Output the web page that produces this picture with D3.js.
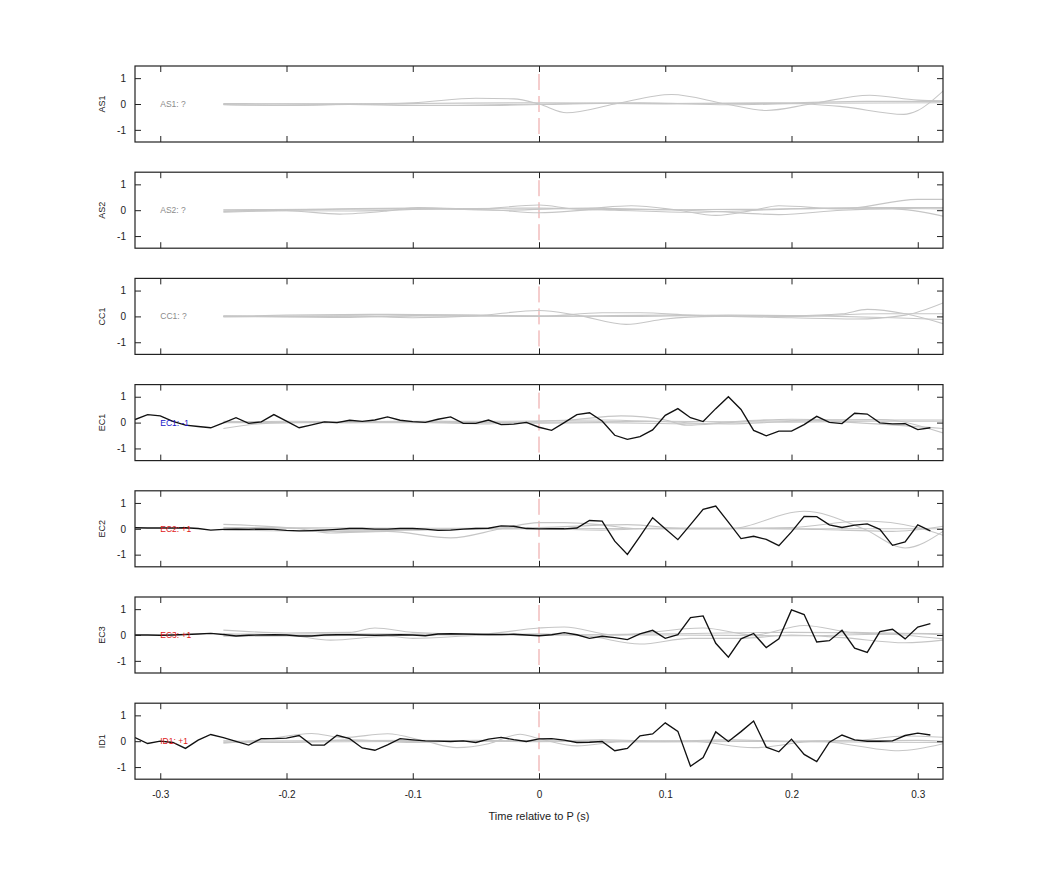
<!DOCTYPE html>
<html>
<head>
<meta charset="utf-8">
<script src="https://cdn.jsdelivr.net/npm/d3@7"></script>
<style>
body { margin: 0; background: #fff; }
text { font-family: "Liberation Sans", Arial, sans-serif; }
</style>
</head>
<body>
<svg id="chart" width="1042" height="875"></svg>
<script>
// channel names, one panel each
var channels = ["AS1", "AS2", "CC1", "EC1", "EC2", "EC3", "ID1"];
var channelNotes = ["AS1: ?", "AS2: ?", "CC1: ?", "EC1: -1", "EC2: +1", "EC3: +1", "ID1: +1"];
var noteColors = ["#8a8a8a", "#8a8a8a", "#8a8a8a", "#1515c8", "#e01818", "#e01818", "#e01818"];

var xTicks = [-0.3, -0.2, -0.1, 0, 0.1, 0.2, 0.3];
var yTicks = [-1, 0, 1];

// sample times of the black traces (s)
var sampleTimes = [-0.32, -0.31, -0.30, -0.29, -0.28, -0.27, -0.26, -0.25, -0.24, -0.23, -0.22, -0.21,
	-0.20, -0.19, -0.18, -0.17, -0.16, -0.15, -0.14, -0.13, -0.12, -0.11, -0.10, -0.09, -0.08, -0.07,
	-0.06, -0.05, -0.04, -0.03, -0.02, -0.01, 0.00, 0.01, 0.02, 0.03, 0.04, 0.05, 0.06, 0.07, 0.08,
	0.09, 0.10, 0.11, 0.12, 0.13, 0.14, 0.15, 0.16, 0.17, 0.18, 0.19, 0.20, 0.21, 0.22, 0.23, 0.24,
	0.25, 0.26, 0.27, 0.28, 0.29, 0.30, 0.31];

var ec1Trace = [0.12, 0.31, 0.26, 0.05, -0.10, -0.15, -0.20, -0.01, 0.19, -0.03, 0.03, 0.31,
	0.06, -0.20, -0.09, 0.03, 0.00, 0.09, 0.05, 0.10, 0.22, 0.09, 0.04, 0.01, 0.13, 0.22,
	-0.03, -0.03, 0.10, -0.08, -0.06, 0.01, -0.18, -0.30, 0.00, 0.31, 0.38, 0.06, -0.49, -0.65, -0.54,
	-0.28, 0.28, 0.54, 0.19, 0.04, 0.54, 1.00, 0.51, -0.30, -0.51, -0.33, -0.33, -0.08, 0.24, 0.01, -0.04,
	0.36, 0.33, -0.01, -0.05, -0.04, -0.27, -0.20];

var ec2Trace = [0.04, 0.03, 0.03, 0.03, 0.04, 0.01, -0.05, -0.02, -0.01, -0.02, -0.01, -0.02,
	-0.06, -0.08, -0.07, -0.05, -0.02, 0.01, 0.01, -0.01, -0.01, 0.01, 0.01, -0.01, -0.06, -0.05,
	-0.01, 0.01, 0.02, 0.11, 0.10, 0.01, 0.00, 0.00, 0.00, 0.03, 0.32, 0.30, -0.48, -0.99, -0.29,
	0.43, 0.00, -0.42, 0.16, 0.75, 0.88, 0.26, -0.38, -0.29, -0.41, -0.65, -0.12, 0.48, 0.47, 0.15, 0.05,
	0.14, 0.19, -0.02, -0.64, -0.51, 0.15, -0.08];

var ec3Trace = [0.00, 0.00, -0.01, 0.00, 0.02, 0.04, 0.06, 0.02, -0.04, -0.01, 0.00, 0.01,
	0.00, -0.04, -0.04, 0.00, 0.01, 0.01, 0.00, -0.01, 0.00, 0.01, 0.00, -0.03, 0.04, 0.05,
	0.04, 0.03, 0.02, 0.02, 0.03, 0.00, -0.03, 0.01, 0.09, 0.01, -0.13, -0.05, -0.10, -0.18, 0.04,
	0.18, -0.13, 0.01, 0.67, 0.74, -0.32, -0.86, -0.15, 0.06, -0.49, -0.15, 0.97, 0.79, -0.27, -0.22, 0.18,
	-0.51, -0.67, 0.13, 0.22, -0.15, 0.31, 0.44];

var id1Trace = [0.14, -0.09, 0.00, -0.05, -0.28, 0.04, 0.26, 0.14, -0.01, -0.15, 0.10, 0.10,
	0.12, 0.22, -0.15, -0.15, 0.23, 0.10, -0.26, -0.35, -0.14, 0.10, 0.05, 0.01, 0.00, -0.01,
	0.01, -0.05, 0.08, 0.15, 0.06, -0.01, 0.09, 0.10, 0.04, -0.05, -0.04, -0.01, -0.37, -0.28, 0.21,
	0.28, 0.71, 0.38, -0.97, -0.63, 0.36, -0.01, 0.37, 0.78, -0.23, -0.41, 0.08, -0.51, -0.79, -0.04, 0.24,
	0.05, 0.00, 0.00, 0.01, 0.22, 0.31, 0.24];

var blackTraces = [null, null, null, ec1Trace, ec2Trace, ec3Trace, id1Trace];

// light grey reference waveforms, [time, value] knots
var as1Grey = [
	[[-0.25,0],[-0.15,0.01],[-0.1,0.05],[-0.05,0.22],[-0.02,0.2],[0,0],[0.022,-0.34],[0.06,0],[0.105,0.37],[0.148,0],[0.18,-0.25],[0.215,0],[0.262,0.34],[0.3,0.15],[0.32,0.12]],
	[[-0.25,-0.02],[-0.2,-0.05],[-0.15,-0.02],[-0.1,-0.06],[-0.05,-0.06],[0,-0.02],[0.05,0.02],[0.1,0],[0.15,0.02],[0.2,0.02],[0.24,-0.1],[0.289,-0.4],[0.3,-0.25],[0.32,0.5]],
	[[-0.25,0.02],[-0.18,0],[-0.1,0.02],[0,0.05],[0.1,0.02],[0.2,0.05],[0.26,0.1],[0.32,0.1]],
	[[-0.25,-0.03],[-0.2,-0.06],[-0.15,-0.01],[-0.08,-0.05],[0,0],[0.08,0.05],[0.15,-0.03],[0.22,0.03],[0.32,0.05]]
];
var as2Grey = [
	[[-0.25,-0.05],[-0.2,-0.02],[-0.158,-0.15],[-0.12,-0.03],[-0.096,0.1],[-0.05,0.05],[0,0.2],[0.03,0.05],[0.073,0.17],[0.11,0],[0.14,-0.2],[0.17,0],[0.19,0.17],[0.24,0.05],[0.3,0.42],[0.32,0.42]],
	[[-0.25,0.02],[-0.18,0.03],[-0.1,0.05],[-0.04,0.02],[0,-0.1],[0.05,0.03],[0.1,0.02],[0.14,-0.05],[0.19,-0.17],[0.24,0],[0.28,0.05],[0.32,-0.23]],
	[[-0.25,0],[-0.15,-0.03],[-0.08,0.05],[0,0.08],[0.06,0],[0.12,-0.08],[0.2,0.05],[0.27,0.1],[0.32,0.1]],
	[[-0.25,-0.08],[-0.2,0],[-0.1,0.08],[-0.03,0],[0.04,0.08],[0.1,0.02],[0.16,0.03],[0.25,0.08],[0.32,0.05]]
];
var cc1Grey = [
	[[-0.25,0],[-0.15,0.02],[-0.1,-0.05],[-0.05,0.02],[0,0.23],[0.03,0.05],[0.069,-0.31],[0.1,-0.1],[0.14,0],[0.2,0.02],[0.24,0.1],[0.26,0.27],[0.29,0.1],[0.32,-0.28]],
	[[-0.25,0],[-0.2,0.05],[-0.12,0.08],[-0.05,0.05],[0,0],[0.05,0.14],[0.08,0.14],[0.12,0.05],[0.2,-0.05],[0.25,-0.1],[0.29,0.05],[0.32,0.52]],
	[[-0.25,0.02],[-0.15,-0.04],[-0.08,0.05],[0,0.02],[0.08,0],[0.15,0.05],[0.22,0.02],[0.28,-0.05],[0.32,-0.12]],
	[[-0.25,-0.02],[-0.1,0.02],[0,0],[0.1,0.05],[0.2,0],[0.27,0.1],[0.32,0.1]]
];
var ec1Grey = [
	[[-0.25,-0.23],[-0.22,-0.04],[-0.18,0.02],[-0.1,0.05],[-0.03,0.05],[0.02,0.09],[0.065,0.26],[0.1,0.1],[0.117,-0.1],[0.15,0],[0.2,0.13],[0.25,0.1],[0.32,0.1]],
	[[-0.25,0.02],[-0.2,0.05],[-0.1,0.02],[-0.04,-0.05],[0,0.05],[0.05,0.1],[0.1,0.03],[0.15,-0.05],[0.2,0.05],[0.27,0.12],[0.32,-0.4]],
	[[-0.25,0.05],[-0.15,0],[-0.08,0.05],[0,-0.02],[0.05,0],[0.12,-0.05],[0.18,0.1],[0.25,0],[0.32,-0.23]],
	[[-0.25,0],[-0.1,0],[0,0.02],[0.1,0.05],[0.2,0.02],[0.26,0.05],[0.32,0.05]]
];
var ec2Grey = [
	[[-0.25,0.17],[-0.19,0],[-0.165,-0.16],[-0.12,-0.1],[-0.07,-0.35],[-0.03,0],[0,0.24],[0.02,0.24],[0.05,0.15],[0.08,0],[0.15,0],[0.21,0.68],[0.257,0],[0.29,-0.74],[0.32,-0.1]],
	[[-0.25,0],[-0.2,0.02],[-0.15,-0.05],[-0.1,-0.05],[-0.05,0.02],[0,0.05],[0.07,0.16],[0.12,0],[0.2,0.05],[0.257,0.3],[0.3,0.05],[0.32,-0.25]],
	[[-0.25,-0.05],[-0.15,-0.1],[-0.08,-0.02],[0,0],[0.05,-0.05],[0.1,0.03],[0.17,0.02],[0.24,-0.05],[0.28,-0.1],[0.32,0.1]],
	[[-0.25,0.05],[-0.1,0.02],[0,0.02],[0.1,0],[0.2,0],[0.3,0],[0.32,0]]
];
var ec3Grey = [
	[[-0.25,0.19],[-0.2,0.08],[-0.15,0.1],[-0.13,0.27],[-0.1,0.1],[-0.05,0.02],[0,0.27],[0.02,0.31],[0.06,0],[0.13,0.27],[0.17,0],[0.21,0.37],[0.25,0.1],[0.32,0.05]],
	[[-0.25,0.05],[-0.2,0],[-0.165,-0.2],[-0.12,-0.05],[-0.1,-0.13],[-0.05,-0.02],[0,0.05],[0.04,-0.05],[0.08,-0.35],[0.12,-0.13],[0.16,-0.13],[0.2,0],[0.24,-0.1],[0.29,-0.3],[0.32,-0.2]],
	[[-0.25,0],[-0.15,0.05],[-0.05,0.03],[0,0],[0.1,0.05],[0.2,0.1],[0.27,0.05],[0.32,-0.15]],
	[[-0.25,-0.05],[-0.1,0],[0,0],[0.1,0],[0.2,-0.03],[0.3,0.05],[0.32,0]]
];
var id1Grey = [
	[[-0.25,-0.08],[-0.22,0.05],[-0.18,0.3],[-0.155,0.14],[-0.12,0.29],[-0.09,0],[-0.065,-0.25],[-0.04,-0.1],[-0.015,0.27],[0,0.1],[0.03,-0.18],[0.07,0],[0.12,0],[0.17,-0.25],[0.22,0],[0.285,-0.37],[0.32,-0.1]],
	[[-0.25,0.02],[-0.2,-0.05],[-0.15,0.05],[-0.1,-0.05],[-0.05,0.03],[0,0],[0.05,0.05],[0.1,0],[0.15,0.05],[0.2,0],[0.25,0.03],[0.29,0.2],[0.32,0.15]],
	[[-0.25,-0.05],[-0.15,-0.02],[-0.05,0],[0,0.02],[0.1,-0.03],[0.2,0],[0.3,0.03],[0.32,0]],
	[[-0.25,0],[-0.1,0.03],[0,-0.02],[0.1,0.02],[0.2,-0.02],[0.32,-0.05]]
];
var greyTraces = [as1Grey, as2Grey, cc1Grey, ec1Grey, ec2Grey, ec3Grey, id1Grey];

var svg = d3.select("#chart");
var left = 135, right = 943, firstTop = 66, panelH = 76, panelStep = 106.2;

var x = d3.scaleLinear().domain([-0.32, 0.32]).range([left, right]);
var y = d3.scaleLinear().domain([-1.47, 1.47]).range([panelH, 0]);

var greyLine = d3.line()
	.x(function(d){ return x(d[0]); })
	.y(function(d){ return y(d[1]); })
	.curve(d3.curveMonotoneX);

channels.forEach(function(name, i){
	var top = firstTop + i * panelStep;
	var g = svg.append("g").attr("transform", "translate(0," + top + ")");

	g.append("clipPath").attr("id", "clip" + i)
		.append("rect").attr("x", left).attr("y", 0).attr("width", right - left).attr("height", panelH);
	var plot = g.append("g").attr("clip-path", "url(#clip" + i + ")");

	// event marker at P arrival
	plot.append("line")
		.attr("x1", x(0)).attr("x2", x(0))
		.attr("y1", 8).attr("y2", panelH - 8)
		.attr("stroke", "#e89090")
		.attr("stroke-width", 0.9)
		.attr("stroke-dasharray", "16,6");

	greyTraces[i].forEach(function(tr){
		plot.append("path")
			.datum(tr)
			.attr("d", greyLine)
			.attr("fill", "none")
			.attr("stroke", "#c6c6c6")
			.attr("stroke-width", 1.1);
	});

	if (blackTraces[i]) {
		var vals = blackTraces[i];
		var blackLine = d3.line()
			.x(function(d, k){ return x(sampleTimes[k]); })
			.y(function(d){ return y(d); });
		plot.append("path")
			.datum(vals)
			.attr("d", blackLine)
			.attr("fill", "none")
			.attr("stroke", "#111")
			.attr("stroke-width", 1.35);
	}

	g.append("text")
		.attr("x", x(-0.3))
		.attr("y", y(0))
		.attr("dy", "0.35em")
		.attr("font-size", 8.5)
		.attr("fill", noteColors[i])
		.text(channelNotes[i]);

	// axes, ticks pointing inward on all four sides
	var yAxis = d3.axisLeft(y).tickValues(yTicks).tickSize(-6).tickPadding(9)
		.tickFormat(function(d){ return String(d); });
	var ya = g.append("g").attr("transform", "translate(" + left + ",0)").call(yAxis);
	var yaR = g.append("g").attr("transform", "translate(" + right + ",0)")
		.call(d3.axisRight(y).tickValues(yTicks).tickSize(-6).tickFormat(""));
	var xaT = g.append("g").attr("transform", "translate(0,0)")
		.call(d3.axisTop(x).tickValues(xTicks).tickSize(-6).tickFormat(""));
	var xAxis = d3.axisBottom(x).tickValues(xTicks).tickSize(-6).tickPadding(12)
		.tickFormat(i == channels.length - 1 ? function(d){ return String(d); } : "");
	var xa = g.append("g").attr("transform", "translate(0," + panelH + ")").call(xAxis);

	[ya, yaR, xaT, xa].forEach(function(a){
		a.select(".domain").remove();
		a.selectAll("line").attr("stroke", "#222");
		a.selectAll("text").attr("font-size", 10).attr("fill", "#222")
			.style("font-family", "'Liberation Sans', Arial, sans-serif");
	});

	g.append("rect")
		.attr("x", left).attr("y", 0)
		.attr("width", right - left).attr("height", panelH)
		.attr("fill", "none")
		.attr("stroke", "#222")
		.attr("stroke-width", 1.2);

	g.append("text")
		.attr("transform", "translate(105," + (panelH / 2) + ") rotate(-90)")
		.attr("text-anchor", "middle")
		.attr("font-size", 9)
		.attr("fill", "#222")
		.text(name);
});

svg.append("text")
	.attr("x", x(0))
	.attr("y", 820)
	.attr("text-anchor", "middle")
	.attr("font-size", 11)
	.attr("fill", "#222")
	.text("Time relative to P (s)");
</script>
</body>
</html>
